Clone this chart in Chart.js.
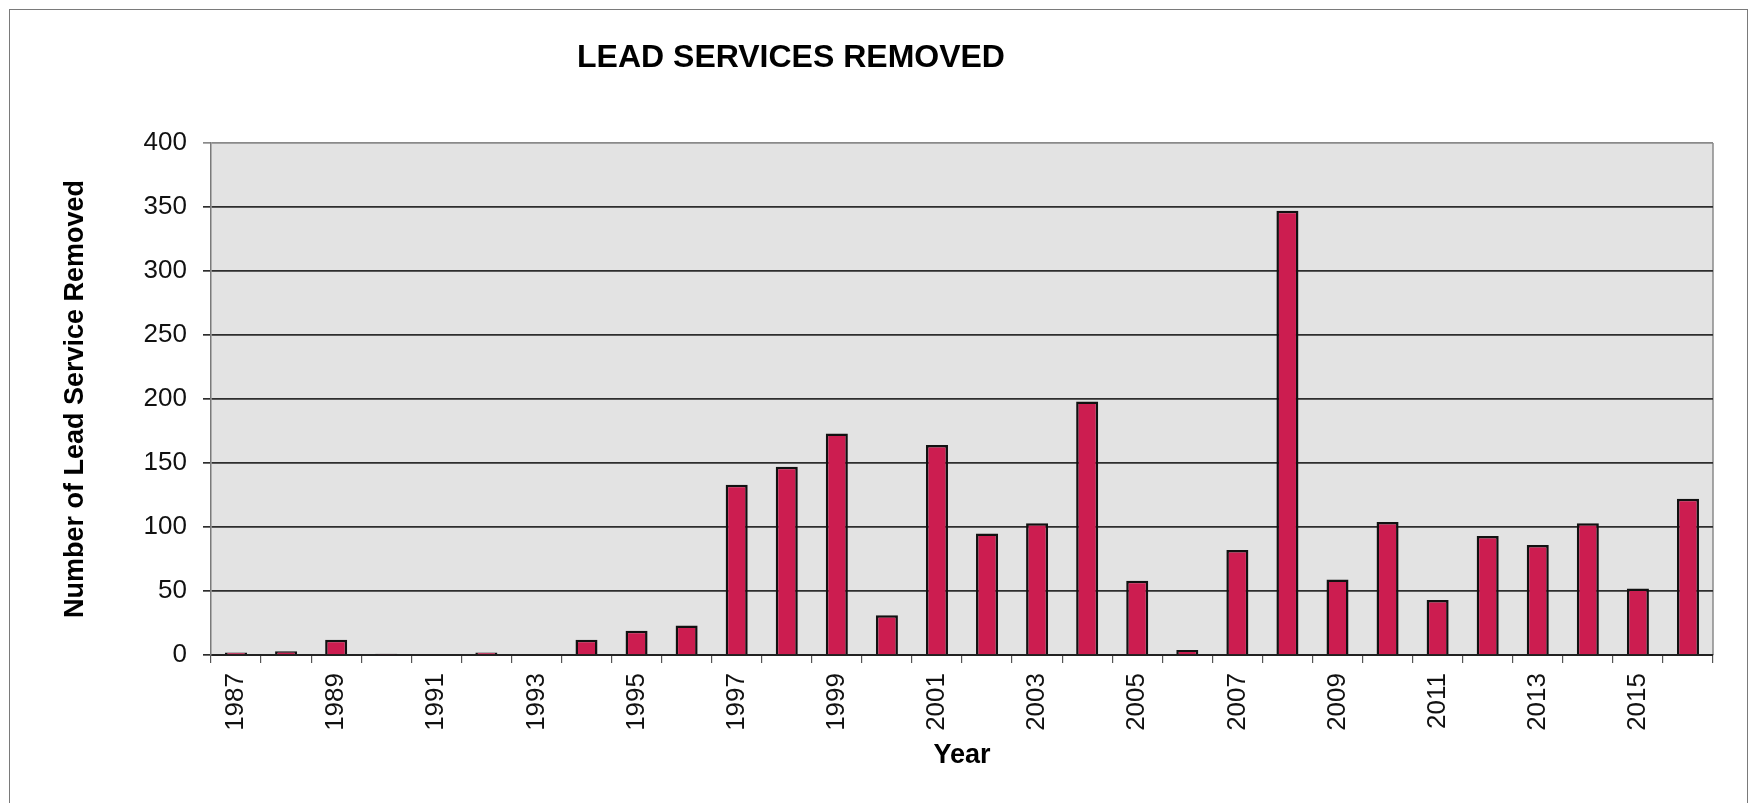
<!DOCTYPE html>
<html>
<head>
<meta charset="utf-8">
<script src="https://cdn.jsdelivr.net/npm/chart.js@4.4.0/dist/chart.umd.min.js"></script>
<style>
  html, body { margin:0; padding:0; background:#fff; }
  #wrap { position:relative; width:1751px; height:803px; overflow:hidden; }
  #frame { position:absolute; left:9px; top:9px; width:1737px; height:830px; border:1.5px solid #7a7a7a; }
  canvas { position:absolute; left:0; top:0; }
</style>
</head>
<body>
<div id="wrap">
  <div id="frame"></div>
  <canvas id="leadChart" width="1751" height="803"></canvas>
</div>
<script>
// values
const YEARS = ['1987','1988','1989','1990','1991','1992','1993','1994','1995','1996',
               '1997','1998','1999','2000','2001','2002','2003','2004','2005','2006',
               '2007','2008','2009','2010','2011','2012','2013','2014','2015','2016'];
const REMOVED = [2, 3, 12, 1, 0, 2, 0, 12, 19, 23,
                 133, 147, 173, 31, 164, 95, 103, 198, 58, 4,
                 82, 347, 59, 104, 43, 93, 86, 103, 52, 122];
const Y_MIN = 0, Y_MAX = 400, Y_STEP = 50;

const TITLE = 'LEAD SERVICES REMOVED';
const FONT = "'Liberation Sans', Arial, Helvetica, sans-serif";

Chart.defaults.font.family = FONT;
Chart.defaults.color = '#111';

// gray plot background + right border + chart title
const paperBits = {
  id: 'paperBits',
  beforeDraw(chart){
    const { ctx, chartArea: a } = chart;
    ctx.save();
    ctx.fillStyle = '#e3e3e3';
    ctx.fillRect(a.left, a.top, a.right - a.left, a.bottom - a.top);
    ctx.strokeStyle = '#8a8a8a';
    ctx.lineWidth = 1.5;
    ctx.beginPath();
    ctx.moveTo(a.right, a.top);
    ctx.lineTo(a.right, a.bottom);
    ctx.stroke();
    ctx.restore();
  },
  afterDraw(chart){
    const ctx = chart.ctx;
    ctx.save();
    ctx.fillStyle = '#000';
    ctx.font = 'bold 32px ' + FONT;
    ctx.textAlign = 'center';
    ctx.textBaseline = 'middle';
    ctx.fillText(TITLE, 791, 58);
    ctx.restore();
  }
};

new Chart(document.getElementById('leadChart'), {
  type: 'bar',
  data: {
    labels: YEARS,
    datasets: [{
      data: REMOVED,
      backgroundColor: '#cc1d50',
      borderColor: '#111',
      borderWidth: 2.5,
      borderSkipped: 'bottom',
      barPercentage: 0.44,
      categoryPercentage: 1
    }]
  },
  options: {
    responsive: false,
    animation: false,
    layout: { padding: { top: 143, right: 38, left: 0, bottom: 0 } },
    plugins: { legend: { display: false }, tooltip: { enabled: false } },
    scales: {
      x: {
        afterFit: s => { s.height = 803 - 655; },
        grid: { offset: true, drawOnChartArea: false, drawTicks: true, tickLength: 8, color: '#555', lineWidth: 1.2 },
        border: { color: '#222', width: 2 },
        ticks: {
          autoSkip: false, minRotation: 90, maxRotation: 90, padding: 10,
          font: { size: 26 }, color: '#111',
          callback: function(v, i){ return i % 2 === 0 ? this.getLabelForValue(v) : ''; }
        },
        title: { display: true, text: 'Year', font: { size: 27, weight: 'bold' }, color: '#000', padding: { top: 0, bottom: 31 } }
      },
      y: {
        min: Y_MIN, max: Y_MAX,
        afterFit: s => { s.width = 211; },
        ticks: { stepSize: Y_STEP, padding: 16, font: { size: 26 }, color: '#111' },
        grid: {
          tickLength: 8, lineWidth: 1.7,
          color: c => (c.tick && c.tick.value === Y_MAX) ? '#8a8a8a' : '#2e2e2e'
        },
        border: { color: '#7a7a7a', width: 1.5 },
        title: { display: true, text: 'Number of Lead Service Removed', font: { size: 27, weight: 'bold' }, color: '#000', padding: { top: 59, bottom: 0 } }
      }
    }
  },
  plugins: [paperBits]
});
</script>
</body>
</html>
